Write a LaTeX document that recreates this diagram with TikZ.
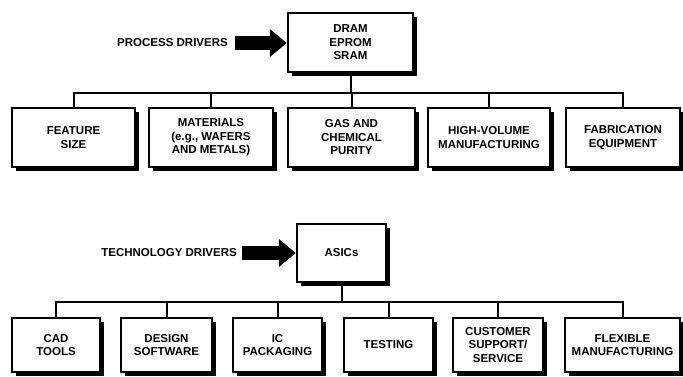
\documentclass[tikz,border=0pt]{standalone}
\usepackage{fontspec}
\setsansfont{Liberation Sans}
\usetikzlibrary{arrows.meta,shadows}
\tikzset{
  figfont/.style={font=\fontsize{11.5}{13.5}\selectfont\sffamily\bfseries},
  figbox/.style={draw, line width=2.4pt, fill=white, align=center, inner sep=0pt,
    minimum height=59pt,
    drop shadow={shadow xshift=4pt, shadow yshift=-4pt, fill=black, opacity=1}},
  figboxlow/.style={figbox, minimum height=54pt},
  figlink/.style={line width=2pt},
  figdriver/.style={line width=14pt, -{Triangle[length=17pt, width=27pt]}},
}
\begin{document}
\begin{tikzpicture}[x=1pt,y=-1pt,figfont]
		\useasboundingbox (0,0) rectangle (683,377);

		% Top: process drivers and memory products
		\node[figbox, minimum width=125pt] (dram) at (350.5,42.5) {DRAM\\EPROM\\SRAM};
		\node[anchor=east, inner sep=0pt] (procdrv) at (228,43) {PROCESS DRIVERS};
		\draw[figdriver, shorten <=7pt] (procdrv.east) -- (procdrv.east -| dram.west);

		\node[figbox, minimum width=123pt] (feat) at (73.5,137.5) {FEATURE\\SIZE};
		\node[figbox, minimum width=124pt] (mat) at (211,137.5) {MATERIALS\\(e.g., WAFERS\\AND METALS)};
		\node[figbox, minimum width=127pt] (gas) at (351.5,137.5) {GAS AND\\CHEMICAL\\PURITY};
		\node[figbox, minimum width=122pt] (hvm) at (489,137.5) {HIGH-VOLUME\\MANUFACTURING};
		\node[figbox, minimum width=114pt] (fab) at (623,137.5) {FABRICATION\\EQUIPMENT};

		\foreach \c in {feat,mat,gas,hvm,fab}
		\draw[figlink] (dram.south) |- ++(0,20) -| (\c.north);

		% Bottom: technology drivers and ASICs
		\node[figbox, minimum width=89pt, minimum height=58pt] (asic) at (341.5,253) {ASICs};
		\node[anchor=east, inner sep=0pt] (techdrv) at (237,253) {TECHNOLOGY DRIVERS};
		\draw[figdriver, shorten <=5pt] (techdrv.east) -- (techdrv.east -| asic.west);

		\node[figboxlow, minimum width=88pt] (cad) at (56,345) {CAD\\TOOLS};
		\node[figboxlow, minimum width=91pt] (dsw) at (166.5,345) {DESIGN\\SOFTWARE};
		\node[figboxlow, minimum width=89pt] (icp) at (277.5,345) {IC\\PACKAGING};
		\node[figboxlow, minimum width=89pt] (test) at (388.5,345) {TESTING};
		\node[figboxlow, minimum width=90pt] (cust) at (498,345) {CUSTOMER\\SUPPORT/\\SERVICE};
		\node[figboxlow, minimum width=115pt] (flex) at (622.5,345) {FLEXIBLE\\MANUFACTURING};

		\foreach \c in {cad,dsw,icp,test,cust,flex}
		\draw[figlink] (asic.south) |- ++(0,19) -| (\c.north);
	\end{tikzpicture}
\end{document}
